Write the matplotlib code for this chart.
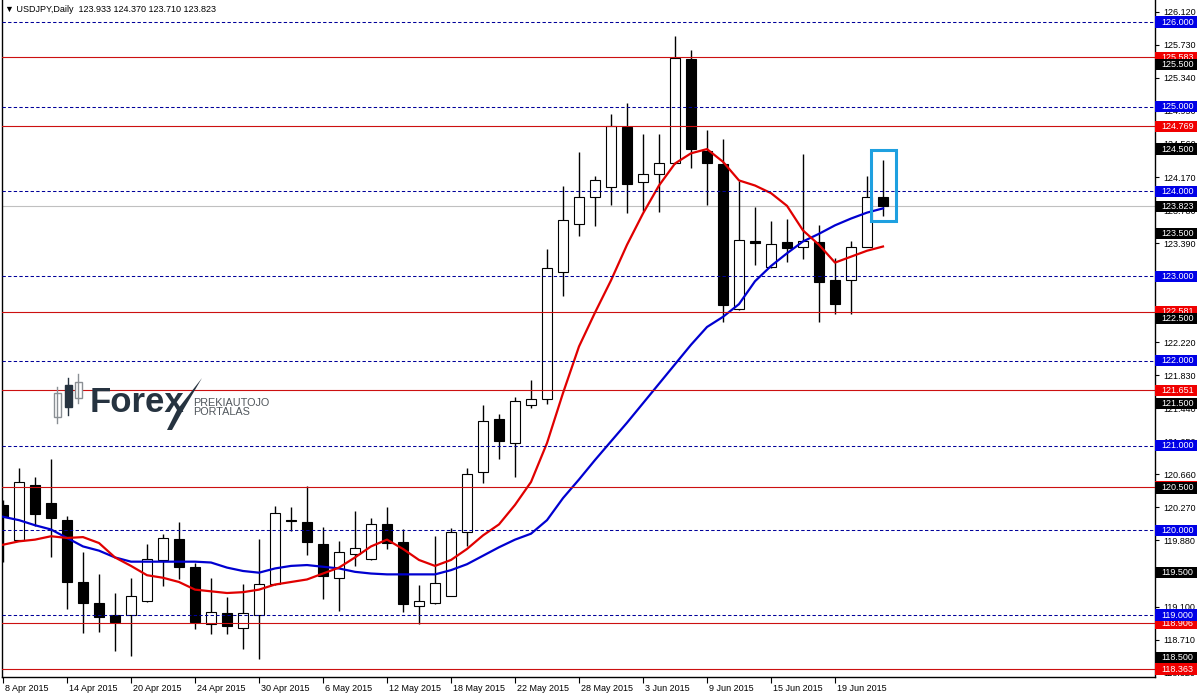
import matplotlib
matplotlib.use('Agg')
import matplotlib.pyplot as plt
import matplotlib.transforms as mtransforms
from matplotlib.patches import Rectangle, Polygon

plt.rcParams['font.family'] = ['Liberation Sans', 'DejaVu Sans']

# daily USDJPY candles, 8 Apr 2015 .. 24 Jun 2015
opens = [120.30, 119.89, 120.54, 120.32, 120.12, 119.39, 119.14, 119.00, 119.00, 119.16,
         119.65, 119.90, 119.57, 118.89, 119.02, 118.85, 119.00, 119.37, 120.12, 120.10,
         119.84, 119.44, 119.72, 119.66, 120.08, 119.86, 119.11, 119.14, 119.23, 119.98,
         120.69, 121.31, 121.03, 121.48, 121.55, 123.05, 123.62, 123.94, 124.05, 124.76,
         124.11, 124.20, 124.33, 125.56, 124.48, 124.32, 122.61, 123.41, 123.11, 123.40,
         123.35, 123.40, 122.95, 122.95, 123.35, 123.933]
highs = [120.36, 120.73, 120.63, 120.84, 120.17, 119.75, 119.48, 119.26, 119.44, 119.84,
         119.96, 120.10, 119.62, 119.44, 119.21, 119.37, 119.90, 120.29, 120.28, 120.52,
         120.04, 119.87, 120.23, 120.14, 120.27, 120.01, 119.35, 119.93, 120.03, 120.74,
         121.48, 121.37, 121.57, 121.77, 123.32, 124.06, 124.46, 124.18, 124.91, 125.04,
         124.68, 124.68, 125.84, 125.67, 124.73, 124.62, 124.12, 123.82, 123.65, 123.67,
         124.44, 123.60, 123.21, 123.41, 124.18, 124.370]
lows = [119.63, 119.87, 120.05, 119.69, 119.07, 118.79, 118.80, 118.57, 118.52, 119.15,
        119.34, 119.42, 118.83, 118.78, 118.78, 118.60, 118.48, 119.35, 119.99, 119.71,
        119.19, 119.05, 119.58, 119.65, 119.78, 119.03, 118.89, 119.13, 119.22, 119.81,
        120.56, 120.84, 120.63, 121.44, 121.49, 122.76, 123.47, 123.59, 123.84, 123.74,
        123.77, 123.76, 124.32, 124.28, 123.84, 122.46, 122.60, 123.13, 123.10, 123.17,
        123.20, 122.46, 122.55, 122.55, 123.34, 123.710]
closes = [120.16, 120.57, 120.19, 120.14, 119.39, 119.14, 118.98, 118.92, 119.23, 119.66,
          119.91, 119.57, 118.92, 119.04, 118.87, 119.02, 119.37, 120.20, 120.11, 119.86,
          119.46, 119.74, 119.79, 120.08, 119.85, 119.13, 119.16, 119.38, 119.98, 120.67,
          121.29, 121.05, 121.53, 121.55, 123.10, 123.66, 123.93, 124.13, 124.77, 124.09,
          124.21, 124.34, 125.58, 124.50, 124.34, 122.66, 123.43, 123.39, 123.38, 123.33,
          123.41, 122.93, 122.67, 123.35, 123.93, 123.823]

ma_red = [119.83, 119.87, 119.89, 119.93, 119.91, 119.92, 119.85, 119.68, 119.58, 119.47,
          119.44, 119.39, 119.30, 119.28, 119.26, 119.27, 119.30, 119.36, 119.39, 119.42,
          119.49, 119.56, 119.68, 119.81, 119.89, 119.78, 119.65, 119.58, 119.65, 119.78,
          119.94, 120.07, 120.30, 120.57, 121.03, 121.62, 122.17, 122.57, 122.95, 123.37,
          123.74, 124.07, 124.33, 124.45, 124.50, 124.35, 124.13, 124.07, 123.98, 123.83,
          123.54, 123.37, 123.16, 123.23, 123.30, 123.35]
ma_blue = [120.16, 120.12, 120.06, 120.01, 119.91, 119.81, 119.76, 119.68, 119.63, 119.63,
           119.63, 119.63, 119.63, 119.62, 119.56, 119.52, 119.50, 119.55, 119.58, 119.59,
           119.57, 119.55, 119.51, 119.49, 119.48, 119.48, 119.48, 119.48, 119.53, 119.60,
           119.70, 119.80, 119.89, 119.96, 120.12, 120.38, 120.60, 120.83, 121.05, 121.27,
           121.50, 121.73, 121.96, 122.19, 122.40, 122.52, 122.67, 122.94, 123.12, 123.27,
           123.41, 123.50, 123.60, 123.68, 123.75, 123.80]

date_ticks = [0, 4, 8, 12, 16, 20, 24, 28, 32, 36, 40, 44, 48, 52]
date_labels = ['8 Apr 2015', '14 Apr 2015', '20 Apr 2015', '24 Apr 2015', '30 Apr 2015',
               '6 May 2015', '12 May 2015', '18 May 2015', '22 May 2015', '28 May 2015',
               '3 Jun 2015', '9 Jun 2015', '15 Jun 2015', '19 Jun 2015']
price_ticks = [126.12, 125.73, 125.34, 124.95, 124.56, 124.17, 123.78, 123.39, 123.00,
               122.61, 122.22, 121.83, 121.44, 121.05, 120.66, 120.27, 119.88, 119.49,
               119.10, 118.71, 118.32]
# scale ticks that sit fully under a level label keep their mark but no text
covered_ticks = [123.00, 122.61, 119.49]

round_levels = [126.0, 125.0, 124.0, 123.0, 122.0, 121.0, 120.0, 119.0]
red_levels = [125.583, 124.769, 122.581, 121.651, 120.517, 118.906, 118.363]
half_levels = [125.5, 124.5, 123.5, 122.5, 121.5, 120.5, 119.5, 118.5]
bid = 123.823

W, H = 1197, 693
fig = plt.figure(figsize=(W / 100, H / 100), dpi=100)
left_px, right_px, bottom_px = 1.5, 1155, 677
ax = fig.add_axes([left_px / W, (H - bottom_px) / H, (right_px - left_px) / W, bottom_px / H])

bar_px = 16
px_per_yen = 84.72
ax.set_xlim((left_px - 3) / bar_px, (right_px - 3) / bar_px)
ax.set_ylim(126 - (bottom_px - 22) / px_per_yen, 126 + 22 / px_per_yen)

# candles
x = list(range(len(opens)))
ax.vlines(x, lows, highs, color='black', lw=1, zorder=2)
for i in x:
    o, c = opens[i], closes[i]
    fc = 'white' if c > o else 'black'
    ax.add_patch(Rectangle((i - 0.32, min(o, c)), 0.64, abs(c - o),
                           facecolor=fc, edgecolor='black', lw=0.8, zorder=3))

# moving averages
ax.plot(x, ma_blue, color='#0000d0', lw=1.6, zorder=4)
ax.plot(x, ma_red, color='#e00000', lw=1.6, zorder=4)

# horizontal levels
for lv in round_levels:
    ax.axhline(lv, color='#000099', lw=0.75, ls=(0, (3.2, 2.2)), zorder=5)
for lv in red_levels:
    ax.axhline(lv, color='#cc1010', lw=0.8, zorder=5)
ax.axhline(bid, color='#c0c0c0', lw=0.8, zorder=1)

# highlight last candle
ax.add_patch(Rectangle((54.25, 123.65), 1.55, 0.84, fill=False,
                       edgecolor='#1ea0e0', lw=2.2, zorder=6))

# price scale
ax.yaxis.tick_right()
ax.set_yticks(price_ticks)
ax.set_yticklabels(['' if p in covered_ticks else f'{p:.3f}' for p in price_ticks])
ax.tick_params(axis='y', length=3, width=0.8, pad=3, labelsize=6.5, colors='black')

trans = mtransforms.blended_transform_factory(ax.transAxes, ax.transData)
ax_w = right_px - left_px
box_w = (W - right_px) / ax_w
half_h = 5.6 / px_per_yen


def price_label(level, color, z):
    ax.add_patch(Rectangle((1.0, level - half_h), box_w, 2 * half_h, transform=trans,
                           facecolor=color, edgecolor='none', clip_on=False, zorder=z))
    ax.text(1.0 + 6 / ax_w, level, f'{level:.3f}', transform=trans, ha='left', va='center',
            color='white', fontsize=6.5, clip_on=False, zorder=z + 0.1)


for lv in red_levels:
    price_label(lv, '#f00000', 10)
for lv in round_levels:
    price_label(lv, '#0000e6', 11)
for lv in half_levels + [bid]:
    price_label(lv, 'black', 12)

# date axis
ax.set_xticks(date_ticks)
ax.set_xticklabels(date_labels, ha='left')
ax.tick_params(axis='x', length=4, width=0.8, pad=1, labelsize=6.5)
offset = mtransforms.ScaledTranslation(2 / 100, 0, fig.dpi_scale_trans)
for lab in ax.get_xticklabels():
    lab.set_transform(lab.get_transform() + offset)

for s in ['left', 'right', 'bottom']:
    ax.spines[s].set_linewidth(1)
ax.spines['top'].set_visible(False)

fig.text(5 / W, 1 - 9 / H, '\u25bc USDJPY,Daily  123.933 124.370 123.710 123.823',
         fontsize=6.5, va='center', ha='left')


# logo
def fp(px, py):
    return (px / W, 1 - py / H)


logo_dark = '#263340'
logo_gray = '#8a8f94'
for cx, top, bot, wt, wb, fill in [(57, 393, 417, 387, 423, 'white'),
                                   (68, 385, 407, 378, 415, logo_dark),
                                   (78, 382, 398, 374, 403, 'white')]:
    ec = logo_dark if fill == logo_dark else logo_gray
    fig.lines.append(plt.Line2D([fp(cx, wt)[0]] * 2, [fp(cx, wt)[1], fp(cx, wb)[1]],
                                transform=fig.transFigure, color=ec, lw=1))
    x0, y0 = fp(cx - 3.5, bot)
    fig.patches.append(Rectangle((x0, y0), 7 / W, (bot - top) / H, transform=fig.transFigure,
                                 facecolor=fill, edgecolor=ec, lw=1))

fig.text(*fp(90, 412), 'Forex', fontsize=25, fontweight='bold', color=logo_dark,
         ha='left', va='baseline')
fig.patches.append(Polygon([fp(167, 430), fp(177, 410), fp(202, 378), fp(182, 412), fp(172, 430)],
                           closed=True, transform=fig.transFigure, facecolor=logo_dark,
                           edgecolor='none'))
fig.text(*fp(193, 406), 'PREKIAUTOJO', fontsize=7.8, color='#50565c', ha='left', va='baseline')
fig.text(*fp(193, 415), 'PORTALAS', fontsize=7.8, color='#50565c', ha='left', va='baseline')

fig.savefig('out.png', dpi=100)
